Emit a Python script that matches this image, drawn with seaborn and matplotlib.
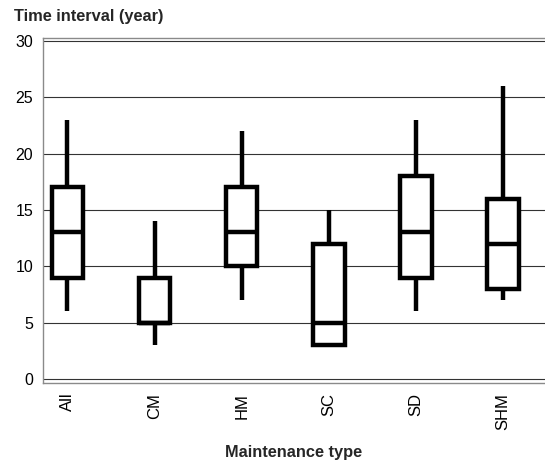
import numpy as np
import pandas as pd
import matplotlib
matplotlib.use("Agg")
import matplotlib.pyplot as plt
import seaborn as sns

categories = ["All", "CM", "HM", "SC", "SD", "SHM"]
whisker_low = [6, 3, 7, 3, 6, 7]
q1 = [9, 5, 10, 3, 9, 8]
median = [13, 5, 13, 5, 13, 12]
q3 = [17, 9, 17, 12, 18, 16]
whisker_high = [23, 14, 22, 15, 23, 26]

rows = []
for c, a, b, m, d, e in zip(categories, whisker_low, q1, median, q3, whisker_high):
    for v in (a, b, m, d, e):
        rows.append({"type": c, "years": v})
df = pd.DataFrame(rows)

sns.set_style("white")
plt.rcParams['font.family'] = ['Liberation Sans', 'DejaVu Sans']

fig = plt.figure(figsize=(5.45, 4.63), dpi=100)
ax = fig.add_axes([43 / 545, 1 - 383 / 463, 1 - 43 / 545, (383 - 38) / 463])

lw = 3.2
sns.boxplot(data=df, x="type", y="years", order=categories, whis=np.inf,
            width=0.36, color="white", linecolor="black", linewidth=lw,
            showcaps=False, fliersize=0, ax=ax,
            boxprops=dict(facecolor="white", edgecolor="black", linewidth=lw),
            medianprops=dict(color="black", linewidth=lw),
            whiskerprops=dict(color="black", linewidth=lw, solid_capstyle="butt"))

ax.set_ylim(-0.35, 30.25)
ax.set_xlim(-0.28, 5.48)
ax.set_yticks([0, 5, 10, 15, 20, 25, 30])
for y in [0, 5, 10, 15, 20, 25, 30]:
    ax.axhline(y, color="#333333", linewidth=0.8, zorder=0)

for s in ["left", "bottom", "top"]:
    ax.spines[s].set_visible(True)
    ax.spines[s].set_color("#8a8a8a")
    ax.spines[s].set_linewidth(1.0)
ax.spines["right"].set_visible(False)

ax.tick_params(axis="both", which="both", direction="out", length=5, width=0.8,
               color="#8a8a8a", labelcolor="black", pad=2)
ax.tick_params(axis="y", labelsize=11.5)
ax.tick_params(axis="x", labelrotation=90, labelsize=12)
ax.set_xlabel("Maintenance type", fontsize=11.8, fontweight="bold", labelpad=11)
ax.set_ylabel("")
fig.text(14 / 545, 1 - 17 / 463, "Time interval (year)", fontsize=11.8,
         fontweight="bold", ha="left", va="center")

fig.savefig("out.png", dpi=100)
